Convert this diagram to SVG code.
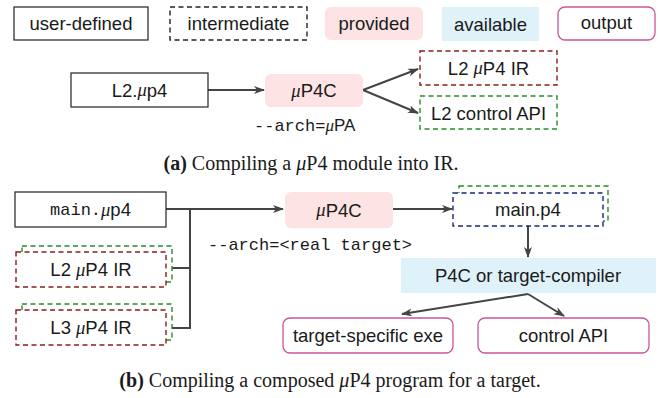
<svg xmlns="http://www.w3.org/2000/svg" width="659" height="398" viewBox="0 0 659 398">
<defs>
<style>
.t{font-family:"Liberation Sans",Arial,sans-serif;font-size:18.5px;fill:#1a1a1a;text-anchor:middle;dominant-baseline:central}
.mono{font-family:"Liberation Mono","DejaVu Sans Mono",monospace;font-size:17px;fill:#1a1a1a}
.mu{font-family:"Liberation Serif",serif;font-style:italic}
.cap{font-family:"Liberation Serif",serif;font-size:20px;fill:#1a1a1a;text-anchor:middle}
.user{fill:#fff;stroke:#222;stroke-width:1.2}
.inter{fill:#fff;stroke:#222;stroke-width:1.4;stroke-dasharray:5,3.5}
.prov{fill:#fde3e3}
.avail{fill:#dff1f9}
.out{fill:#fff;stroke:#c8569a;stroke-width:1.3}
.red{fill:#fff;stroke:#8b1c1c;stroke-width:1.4;stroke-dasharray:5,3.5}
.green{fill:#fff;stroke:#2a8a2a;stroke-width:1.4;stroke-dasharray:5,3.5}
.blue{fill:#fff;stroke:#1a237e;stroke-width:1.4;stroke-dasharray:5,3.5}
.c{fill:none;stroke:#444;stroke-width:2}
.a{marker-end:url(#ah)}
</style>
<marker id="ah" markerWidth="12" markerHeight="10" refX="10" refY="4" orient="auto" markerUnits="userSpaceOnUse">
<path d="M0,0 L11,4 L0,8 L3,4 z" fill="#444"/>
</marker>
</defs>

<g id="legend">
<g id="leg-user"><rect class="user" x="14" y="7" width="134" height="33"/><text class="t" x="81" y="23.5">user-defined</text></g>
<g id="leg-inter"><rect class="inter" x="170" y="7" width="137" height="33"/><text class="t" x="238.5" y="23.5">intermediate</text></g>
<g id="leg-prov"><rect class="prov" x="325" y="7" width="98" height="33" rx="6"/><text class="t" x="374" y="23">provided</text></g>
<g id="leg-avail"><rect class="avail" x="442" y="7" width="97" height="34"/><text class="t" x="490.5" y="24">available</text></g>
<g id="leg-out"><rect class="out" x="558" y="7" width="97" height="33" rx="7"/><text class="t" x="606.5" y="22">output</text></g>
</g>

<g id="connectors">
<line class="c a" x1="208" y1="90" x2="264" y2="90"/>
<polyline class="c a" points="363,90 418,69"/>
<polyline class="c a" points="363,90 418,113"/>
<polyline class="c a" points="166,209 283,209"/>
<polyline class="c" points="190,209 190,328 166,328"/>
<line class="c" x1="166" y1="268" x2="190" y2="268"/>
<line class="c a" x1="393" y1="209" x2="452" y2="209"/>
<line class="c a" x1="528" y1="226" x2="528" y2="257"/>
<line class="c a" x1="528" y1="294" x2="402" y2="314"/>
<line class="c a" x1="528" y1="294" x2="564" y2="316"/>
</g>

<g id="a-l2up4"><rect class="user" x="71" y="73" width="137" height="34"/><text class="t" x="139.5" y="90">L2.<tspan class="mu">μ</tspan>p4</text></g>
<g id="a-up4c"><rect class="prov" x="265" y="74" width="98" height="33" rx="6"/><text class="t" x="314" y="90.5"><tspan class="mu">μ</tspan>P4C</text></g>
<text class="mono" x="254" y="131">--arch=<tspan class="mu">μ</tspan><tspan font-family="Liberation Sans,sans-serif">PA</tspan></text>
<g id="a-ir"><rect class="red" x="420" y="51" width="137" height="34"/><text class="t" x="488.5" y="68">L2 <tspan class="mu">μ</tspan>P4 IR</text></g>
<g id="a-api"><rect class="green" x="420" y="96" width="137" height="33"/><text class="t" x="488.5" y="113">L2 control API</text></g>

<text class="cap" x="311" y="170"><tspan font-weight="bold">(a)</tspan> Compiling a <tspan font-style="italic">μ</tspan>P4 module into IR.</text>

<g id="b-main"><rect class="user" x="15" y="192" width="151" height="35"/><text class="t" x="90.5" y="209.5"><tspan class="mono">main.</tspan><tspan class="mu">μ</tspan>p4</text></g>
<g id="b-l2ir"><rect class="green" x="22" y="246" width="150" height="36"/><rect class="red" x="16" y="252" width="150" height="35"/><text class="t" x="91" y="269.5">L2 <tspan class="mu">μ</tspan>P4 IR</text></g>
<g id="b-l3ir"><rect class="green" x="22" y="304" width="150" height="36"/><rect class="red" x="16" y="310" width="150" height="35"/><text class="t" x="91" y="327.5">L3 <tspan class="mu">μ</tspan>P4 IR</text></g>
<g id="b-up4c"><rect class="prov" x="285" y="192" width="108" height="36" rx="6"/><text class="t" x="339" y="210"><tspan class="mu">μ</tspan>P4C</text></g>
<text class="mono" x="208" y="250">--arch=&lt;real target&gt;</text>
<g id="b-mainp4"><rect class="green" x="459" y="186" width="149" height="35"/><rect class="blue" x="453" y="193" width="150" height="33"/><text class="t" x="528" y="209.5">main.p4</text></g>
<g id="b-p4c"><rect class="avail" x="401" y="258" width="255" height="35"/><text class="t" x="528" y="275.5">P4C or target-compiler</text></g>
<g id="b-exe"><rect class="out" x="283" y="318" width="170" height="35" rx="7"/><text class="t" x="368" y="335.5">target-specific exe</text></g>
<g id="b-api"><rect class="out" x="478" y="318" width="171" height="35" rx="7"/><text class="t" x="563.5" y="335.5">control API</text></g>

<text class="cap" x="330" y="387"><tspan font-weight="bold">(b)</tspan> Compiling a composed <tspan font-style="italic">μ</tspan>P4 program for a target.</text>
</svg>
